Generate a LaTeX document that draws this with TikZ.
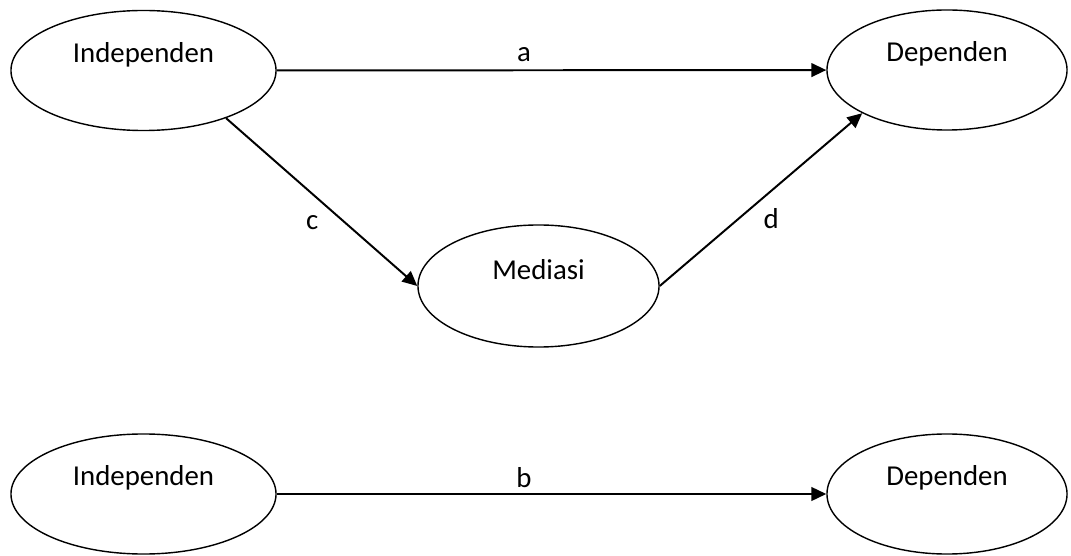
\documentclass[tikz,border=0pt]{standalone}
\usepackage{fontspec}
\setmainfont{Carlito}
\usetikzlibrary{shapes.geometric,arrows.meta}

\begin{document}
\begin{tikzpicture}[
  x=0.025cm, y=-0.025cm,
  var/.style={ellipse, draw, line width=1pt, inner sep=0pt, minimum height=3cm},
  varname/.style={font=\fontsize{20.5}{24}\selectfont, yshift=0.4cm},
  arrow/.style={-{Triangle[length=0.37cm, width=0.34cm]}, line width=1.4pt},
  coef/.style={font=\fontsize{20.5}{24}\selectfont},
]
\useasboundingbox (0,0) rectangle (1071,556);

% === MODEL WITH MEDIATOR ===
\node[var, minimum width=6.625cm, label={[varname]center:Independen}] (indep) at (143.5,70.5) {};
\node[var, minimum width=6cm, label={[varname]center:Dependen}] (dep) at (947,70) {};
\node[var, minimum width=6.025cm, minimum height=3.05cm, label={[varname]center:Mediasi}] (med) at (538.5,286) {};

\draw[arrow] (indep) -- node[coef, pos=0.45, yshift=0.4cm] (la) {a} (dep);
\draw[arrow] (indep.-30) -- node[coef, pos=0.45, yshift=-0.72cm] (lc) {c} (med.west);
\draw[arrow] (med.east) -- node[coef, pos=0.55, yshift=-0.7cm] (ld) {d} (dep.-153);

% === DIRECT MODEL ===
\node[var, minimum width=6.625cm, label={[varname]center:Independen}] (indep2) at (143.5,494) {};
\node[var, minimum width=6cm, label={[varname]center:Dependen}] (dep2) at (947,494) {};

\draw[arrow] (indep2) -- node[coef, pos=0.45, yshift=0.4cm] (lb) {b} (dep2);
\end{tikzpicture}
\end{document}
